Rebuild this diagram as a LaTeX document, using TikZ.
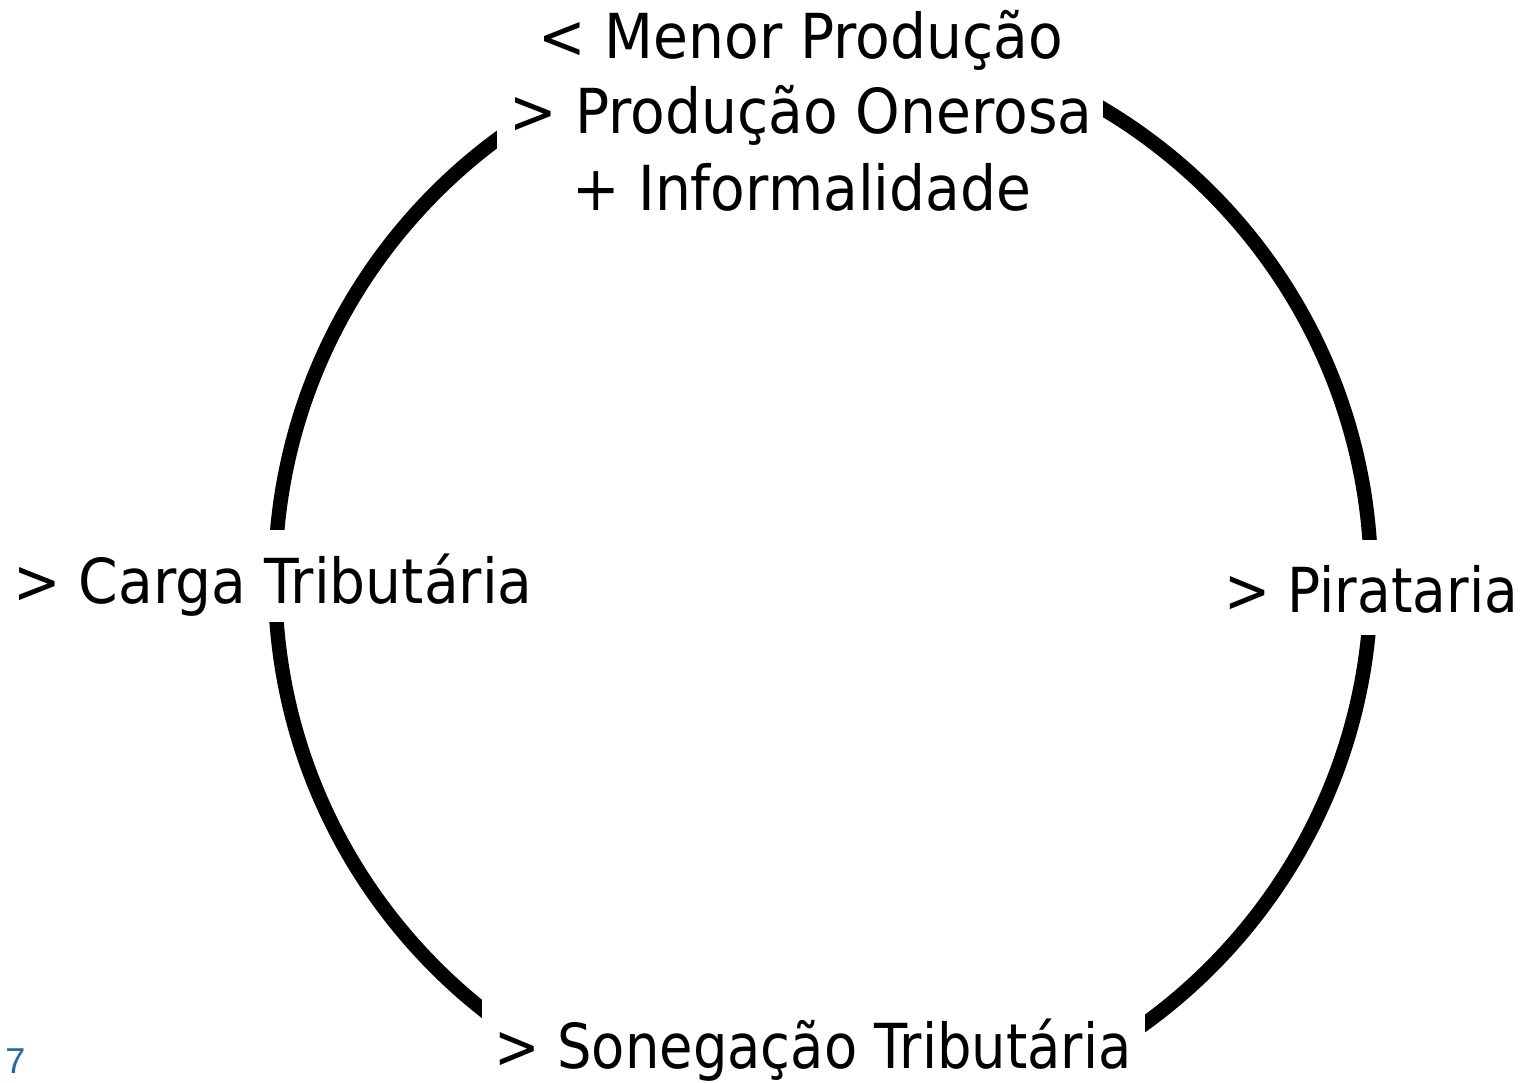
\documentclass[tikz,border=0pt]{standalone}
\usepackage{fontspec}
\setmainfont{DejaVu Sans}[FakeStretch=0.915]
\newfontfamily\sonfont{DejaVu Sans}[FakeStretch=0.876]
\newfontfamily\pirfont{DejaVu Sans}[FakeStretch=0.887]
\newfontfamily\numfont{Liberation Sans}
\definecolor{pagenum}{HTML}{1F6BA5}
\begin{document}
\begin{tikzpicture}[x=0.5pt,y=-0.5pt,
  lbl/.style={font=\fontsize{31}{38}\selectfont, inner sep=0pt, anchor=base},
  ring/.style={line width=7.2pt, draw=black},
  mask/.style={fill=white}]
\useasboundingbox (0,0) rectangle (1534,1082);
\draw[ring] (823,580) circle [radius=274pt];
\fill[mask] (497,-20) rectangle (1103,235);
\fill[mask] (0,530) rectangle (560,622);
\fill[mask] (1210,540) rectangle (1534,635);
\fill[mask] (482,985) rectangle (1145,1150);
\node[lbl] (menor) at (801,58) {< Menor Produção};
\node[lbl] (onerosa) at (801,133) {> Produção Onerosa};
\node[lbl] (informal) at (802,210) {+ Informalidade};
\node[lbl] (carga) at (273,603) {> Carga Tributária};
\node[lbl] (pirataria) at (1371,612) {\pirfont > Pirataria};
\node[lbl] (sonegacao) at (813,1068) {\sonfont > Sonegação Tributária};
\node[inner sep=0pt, anchor=base west, text=pagenum, font=\numfont\fontsize{18}{20}\selectfont] (pagina) at (5,1073) {7};
\end{tikzpicture}
\end{document}
